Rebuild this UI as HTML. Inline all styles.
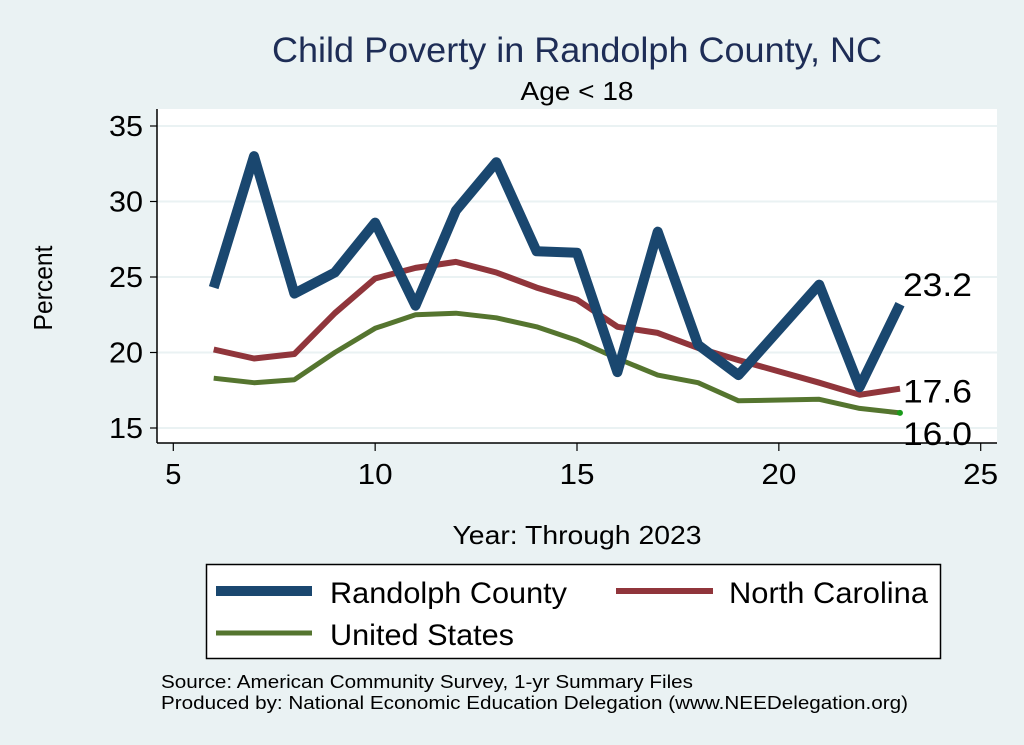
<!DOCTYPE html>
<html><head><meta charset="utf-8"><style>
html,body{margin:0;padding:0;background:#eaf2f3;}
svg{display:block;font-family:"Liberation Sans",sans-serif;}
</style></head><body>
<svg id="chart" width="1024" height="745" viewBox="0 0 1024 745" xmlns="http://www.w3.org/2000/svg">
<rect x="0" y="0" width="1024" height="745" fill="#eaf2f3"/>
<text x="577" y="62" font-size="35" fill="#1e2d56" text-anchor="middle" textLength="610" lengthAdjust="spacingAndGlyphs">Child Poverty in Randolph County, NC</text>
<text x="577" y="100" font-size="26" fill="#000" text-anchor="middle" textLength="113" lengthAdjust="spacingAndGlyphs">Age &lt; 18</text>
<rect x="157" y="109" width="840" height="334" fill="#fff"/>
<g id="grid"></g>
<g id="axes"></g>
<g id="series"></g>
<text x="577" y="544" font-size="26" text-anchor="middle" textLength="249" lengthAdjust="spacingAndGlyphs">Year: Through 2023</text>
<text transform="translate(52,288) rotate(-90)" font-size="26" text-anchor="middle" textLength="85" lengthAdjust="spacingAndGlyphs">Percent</text>
<g>
<rect x="206.5" y="564.5" width="734" height="94" fill="#fff" stroke="#000" stroke-width="1.5"/>
<line x1="216" y1="591" x2="312" y2="591" stroke="#1a476f" stroke-width="10"/>
<text x="330" y="603" font-size="30" textLength="237" lengthAdjust="spacingAndGlyphs">Randolph County</text>
<line x1="616" y1="591" x2="713" y2="591" stroke="#90353b" stroke-width="6"/>
<text x="729" y="603" font-size="30" textLength="199" lengthAdjust="spacingAndGlyphs">North Carolina</text>
<line x1="216" y1="633" x2="312" y2="633" stroke="#55752f" stroke-width="5"/>
<text x="330" y="645" font-size="30" textLength="184" lengthAdjust="spacingAndGlyphs">United States</text>
</g>
<text x="161" y="688" font-size="18" textLength="532" lengthAdjust="spacingAndGlyphs">Source: American Community Survey, 1-yr Summary Files</text>
<text x="161" y="709" font-size="18" textLength="747" lengthAdjust="spacingAndGlyphs">Produced by: National Economic Education Delegation (www.NEEDelegation.org)</text>
</svg>
<script>
const years = [6,7,8,9,10,11,12,13,14,15,16,17,18,19,21,22,23];
const randolph = [24.3,33.0,23.9,25.3,28.6,23.1,29.4,32.6,26.7,26.6,18.7,28.0,20.5,18.5,24.5,17.7,23.2];
const northCarolina = [20.2,19.6,19.9,22.6,24.9,25.6,26.0,25.3,24.3,23.5,21.7,21.3,20.3,19.5,18.0,17.2,17.6];
const unitedStates = [18.3,18.0,18.2,20.0,21.6,22.5,22.6,22.3,21.7,20.8,19.6,18.5,18.0,16.8,16.9,16.3,16.0];
const xTicks = [5,10,15,20,25];
const yTicks = [15,20,25,30,35];

const NS = "http://www.w3.org/2000/svg";
function xs(v){ return 173.3 + (v-5)*40.37; }
function ys(v){ return 428 - (v-15)*15.1; }
function mk(tag, attrs, parent){
  const e = document.createElementNS(NS, tag);
  for (const k in attrs) e.setAttribute(k, attrs[k]);
  parent.appendChild(e); return e;
}
const grid = document.getElementById('grid');
const axes = document.getElementById('axes');
const series = document.getElementById('series');

yTicks.forEach(t => {
  const g = mk('line', {x1:157, x2:997, y1:ys(t), y2:ys(t), stroke:'#eaf2f3', 'stroke-width':2}, grid);
  
  
  const tk = mk('line', {x1:150, x2:157, y1:ys(t), y2:ys(t), stroke:'#000', 'stroke-width':1.2}, axes);
  
  
  const lb = mk('text', {x:143, y:ys(t)+10, 'font-size':29, 'text-anchor':'end', textLength:34, lengthAdjust:'spacingAndGlyphs'}, axes);
  lb.textContent = t;
  
  
});
xTicks.forEach(t => {
  const tk = mk('line', {x1:xs(t), x2:xs(t), y1:443, y2:451, stroke:'#000', 'stroke-width':1.2}, axes);
  
  
  const lb = mk('text', {x:xs(t), y:484, 'font-size':29, 'text-anchor':'middle'}, axes);
  lb.textContent = t;
  if (String(t).length > 1) { lb.setAttribute('textLength', 35); lb.setAttribute('lengthAdjust', 'spacingAndGlyphs'); }
  
  
});
const ya = mk('line', {x1:157, x2:157, y1:109, y2:443, stroke:'#000', 'stroke-width':1.5}, axes);


const xa = mk('line', {x1:157, x2:997, y1:443, y2:443, stroke:'#000', 'stroke-width':1.5}, axes);



function drawLine(vals, color, w, name){
  const pts = years.map((y,i) => xs(y).toFixed(1) + ',' + ys(vals[i]).toFixed(1)).join(' ');
  const p = mk('polyline', {points:pts, fill:'none', stroke:color, 'stroke-width':w, 'stroke-linejoin':'round', 'stroke-linecap':'butt'}, series);
  
  
}
drawLine(unitedStates, '#55752f', 5, 'line-united-states');
drawLine(northCarolina, '#90353b', 6, 'line-north-carolina');
drawLine(randolph, '#1a476f', 10, 'line-randolph-county');

const last = years.length - 1;
const dot = mk('circle', {cx:xs(years[last]), cy:ys(unitedStates[last]), r:3, fill:'#1a9a1a'}, series);



function endLabel(v, dy, name){
  const t = mk('text', {x:xs(years[last])+3, y:ys(v)+dy, 'font-size':32, textLength:69, lengthAdjust:'spacingAndGlyphs'}, series);
  t.textContent = v.toFixed(1);
  
  
}
endLabel(randolph[last], -8, 'end-label-randolph');
endLabel(northCarolina[last], 14, 'end-label-nc');
endLabel(unitedStates[last], 32, 'end-label-us');
</script>
</body></html>
